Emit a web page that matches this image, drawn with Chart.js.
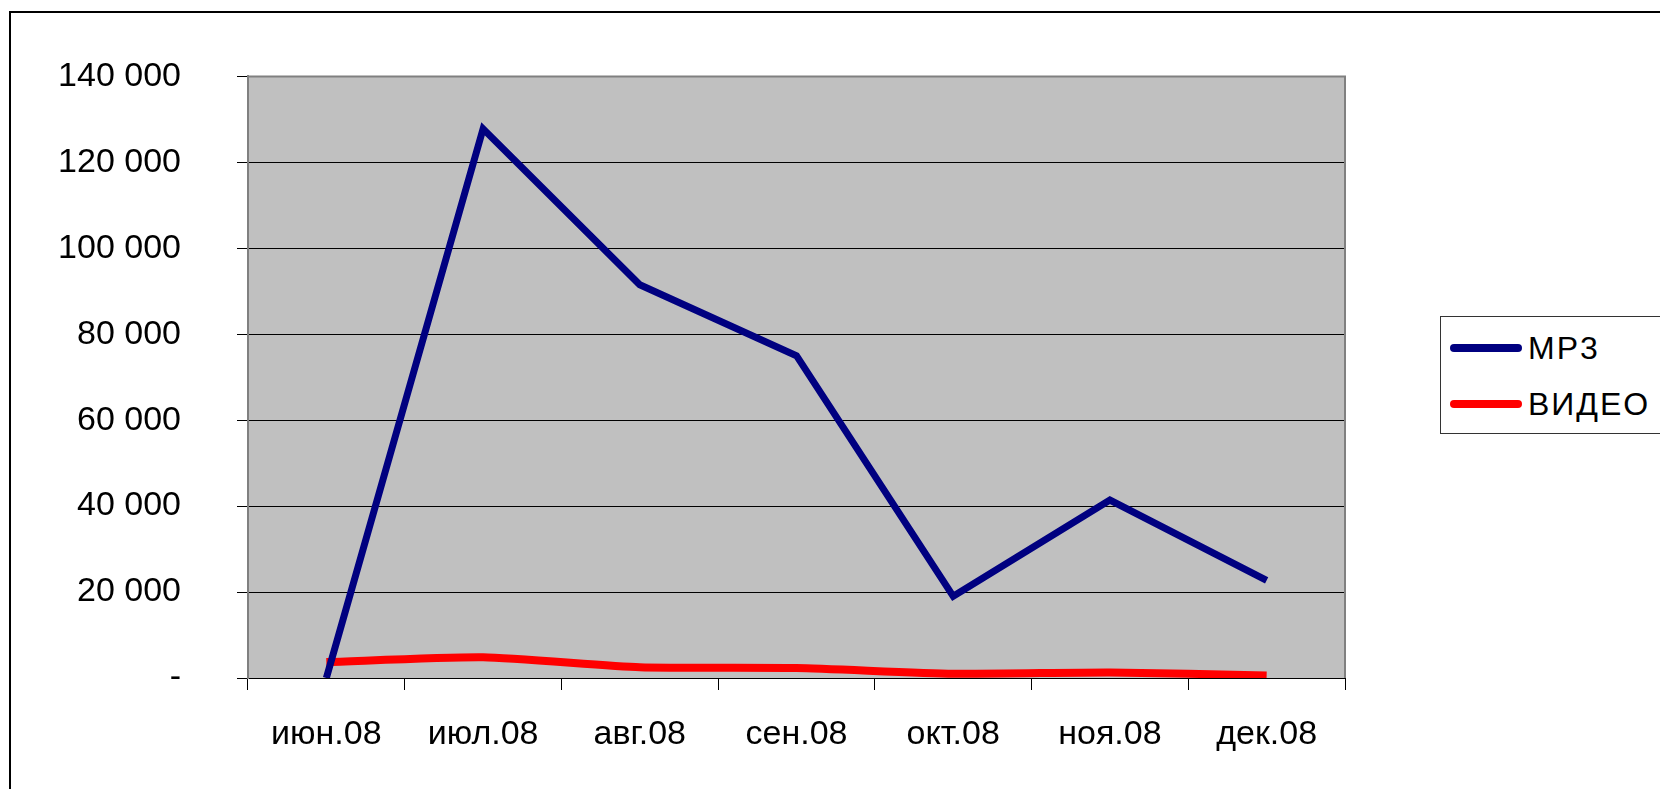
<!DOCTYPE html>
<html lang="ru">
<head>
    <meta charset="UTF-8">
    <title>MP3 / ВИДЕО</title>
    <script src="https://cdn.jsdelivr.net/npm/chart.js"></script>
    <style>
        body {
            margin: 0;
            width: 1660px;
            height: 789px;
            overflow: hidden;
            background: #fff;
            font-family: 'Liberation Sans', Arial, sans-serif;
        }
        .frame {
            position: absolute;
            left: 9px;
            top: 11px;
            width: 1720px;
            height: 840px;
            border: 2px solid #000;
        }
        .wrap {
            position: absolute;
            left: 0;
            top: 0;
            width: 1660px;
            height: 789px;
        }
        .legend {
            position: absolute;
            left: 1440px;
            top: 316px;
            width: 300px;
            height: 116px;
            border: 1px solid #333;
            background: #fff;
        }
        .legend .row {
            position: absolute;
            left: 9px;
            height: 34px;
            display: flex;
            align-items: center;
            font-size: 32px;
            letter-spacing: 2px;
            color: #000;
        }
        .legend .swatch {
            display: inline-block;
            width: 72px;
            height: 8px;
            border-radius: 4px;
            margin-right: 6px;
        }
    </style>
</head>
<body>
<div class="frame"></div>
<div class="wrap">
    <canvas id="grafico" width="1660" height="789"></canvas>
</div>
<div class="legend" id="leyenda"></div>

<script>
    // данные
    const meses = ['июн.08', 'июл.08', 'авг.08', 'сен.08', 'окт.08', 'ноя.08', 'дек.08'];
    const mp3 = [0, 127800, 91500, 75000, 19000, 41400, 22700];
    const video = [3700, 4800, 2500, 2300, 1000, 1300, 600];
    const nombres = ['MP3', 'ВИДЕО'];
    const colores = ['#000080', '#ff0000'];
    const grosor = [7, 8];
    const yMax = 140000;
    const yPaso = 20000;

    function formato(v) {
        if (v === 0) return '-';
        return String(v).replace(/\B(?=(\d{3})+(?!\d))/g, ' ');
    }

    // fondo gris del área de trazado
    const fondo = {
        id: 'fondo',
        beforeDraw(chart) {
            const a = chart.chartArea;
            const ctx = chart.ctx;
            ctx.save();
            ctx.fillStyle = '#c0c0c0';
            ctx.fillRect(a.left, a.top, a.right - a.left, a.bottom - a.top);
            ctx.restore();
        },
        beforeDatasetsDraw(chart) {
            const a = chart.chartArea;
            const ctx = chart.ctx;
            ctx.save();
            ctx.strokeStyle = '#808080';
            ctx.lineWidth = 2;
            ctx.beginPath();
            ctx.moveTo(a.left, a.top);
            ctx.lineTo(a.right, a.top);
            ctx.lineTo(a.right, a.bottom);
            ctx.stroke();
            ctx.restore();
        }
    };

    const ctx = document.getElementById('grafico').getContext('2d');
    const chart = new Chart(ctx, {
        type: 'line',
        data: {
            labels: meses,
            datasets: [
                {
                    label: nombres[0],
                    data: mp3,
                    borderColor: colores[0],
                    borderWidth: grosor[0],
                    pointRadius: 0,
                    tension: 0
                },
                {
                    label: nombres[1],
                    data: video,
                    borderColor: colores[1],
                    borderWidth: grosor[1],
                    pointRadius: 0,
                    tension: 0.2
                }
            ]
        },
        options: {
            responsive: false,
            animation: false,
            layout: { padding: { left: 0, top: 69, right: 315, bottom: 0 } },
            plugins: {
                legend: { display: false },
                tooltip: { enabled: false }
            },
            scales: {
                x: {
                    offset: true,
                    grid: {
                        offset: true,
                        drawOnChartArea: false,
                        drawTicks: true,
                        tickLength: 12,
                        tickColor: '#000'
                    },
                    border: { color: '#000', width: 1 },
                    ticks: {
                        color: '#000',
                        padding: 24,
                        maxRotation: 0,
                        font: { family: "'Liberation Sans', Arial", size: 34 }
                    },
                    afterFit(scale) { scale.height = 111; }
                },
                y: {
                    min: 0,
                    max: yMax,
                    grid: {
                        color: c => (c.tick && c.tick.value === yMax) ? '#808080' : '#000',
                        lineWidth: 1,
                        tickLength: 11,
                        tickColor: '#000'
                    },
                    border: { color: '#808080', width: 2 },
                    ticks: {
                        stepSize: yPaso,
                        color: '#000',
                        padding: 56,
                        font: { family: "'Liberation Sans', Arial", size: 34 },
                        callback: v => formato(v)
                    },
                    afterFit(scale) { scale.width = 248; }
                }
            }
        },
        plugins: [fondo]
    });

    // leyenda
    const leyenda = document.getElementById('leyenda');
    const filas = [31, 87];
    nombres.forEach((n, i) => {
        const fila = document.createElement('div');
        fila.className = 'row';
        fila.style.top = (filas[i] - 17) + 'px';
        const linea = document.createElement('span');
        linea.className = 'swatch';
        linea.style.background = colores[i];
        fila.appendChild(linea);
        fila.appendChild(document.createTextNode(n));
        leyenda.appendChild(fila);
    });
</script>
</body>
</html>
